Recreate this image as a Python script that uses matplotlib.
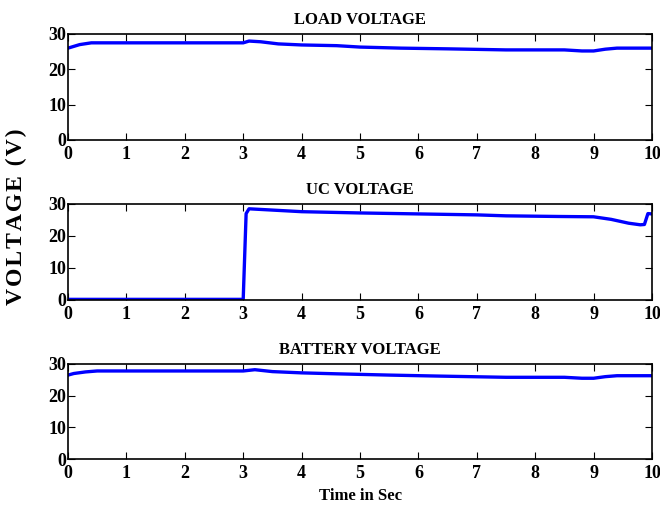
import numpy as np
import matplotlib
matplotlib.use('Agg')
import matplotlib.pyplot as plt

plt.rcParams['font.family'] = ['Liberation Serif', 'DejaVu Serif']
plt.rcParams['font.weight'] = 'bold'

# values
t_load = [0, 0.1, 0.2, 0.4, 1, 2, 3.0, 3.1, 3.3, 3.6, 4, 4.6, 5, 5.7, 6.5, 7.5, 8.5, 8.8, 9.0, 9.2, 9.4, 10]
v_load = [26.0, 26.5, 27.0, 27.5, 27.5, 27.5, 27.5, 28.0, 27.8, 27.2, 26.9, 26.7, 26.3, 26.0, 25.8, 25.5, 25.5, 25.2, 25.2, 25.7, 26.0, 26.0]

t_uc = [0, 1, 2, 3.0, 3.05, 3.1, 3.4, 4, 5, 6, 7, 7.5, 8.4, 9.0, 9.3, 9.6, 9.8, 9.87, 9.93, 10]
v_uc = [0.2, 0.2, 0.2, 0.2, 27.0, 28.5, 28.2, 27.6, 27.2, 26.9, 26.6, 26.3, 26.1, 26.0, 25.2, 24.0, 23.5, 23.6, 27.0, 26.9]

t_bat = [0, 0.1, 0.3, 0.5, 1, 2, 3.0, 3.2, 3.5, 4, 4.6, 5.5, 6.3, 7.5, 8.5, 8.8, 9.0, 9.2, 9.4, 10]
v_bat = [26.5, 27.0, 27.5, 27.8, 27.8, 27.8, 27.8, 28.2, 27.6, 27.2, 26.9, 26.5, 26.2, 25.8, 25.8, 25.5, 25.5, 26.0, 26.3, 26.3]

titles = ['LOAD VOLTAGE', 'UC VOLTAGE', 'BATTERY VOLTAGE']
series = [(t_load, v_load), (t_uc, v_uc), (t_bat, v_bat)]
xticks = list(range(0, 11))
yticks = [0, 10, 20, 30]

fig = plt.figure(figsize=(6.6, 5.09), dpi=100)
W, H = 660, 509
boxes = [(34, 140), (204, 300), (364, 459)]
x0, x1 = 68, 652

for (top, bot), title, (t, v) in zip(boxes, titles, series):
    ax = fig.add_axes([x0 / W, 1 - bot / H, (x1 - x0) / W, (bot - top) / H])
    ax.plot(t, v, color='#0000ff', lw=2.4)
    ax.set_xlim(0, 10)
    ax.set_ylim(0, 30)
    ax.set_xticks(xticks)
    ax.set_yticks(yticks)
    ax.tick_params(direction='in', top=True, right=True, length=5, width=0.8,
                   labelsize=13)
    ax.tick_params(axis='x', pad=4)
    ax.tick_params(axis='y', pad=1.5)
    for lab in ax.get_xticklabels() + ax.get_yticklabels():
        lab.set_fontweight('bold')
    for s in ax.spines.values():
        s.set_linewidth(1.2)
    ax.set_title(title, fontsize=12, fontweight='bold', pad=7)

fig.text(361 / W, 1 - 496 / H, 'Time in Sec', ha='center', va='center',
         fontsize=12, fontweight='bold')
fig.text(16 / W, 1 - 217 / H, '\u200a'.join('VOLTAGE (V)'), rotation=90,
         ha='center', va='center', fontsize=17, fontweight='bold')

fig.savefig('out.png', dpi=100)
